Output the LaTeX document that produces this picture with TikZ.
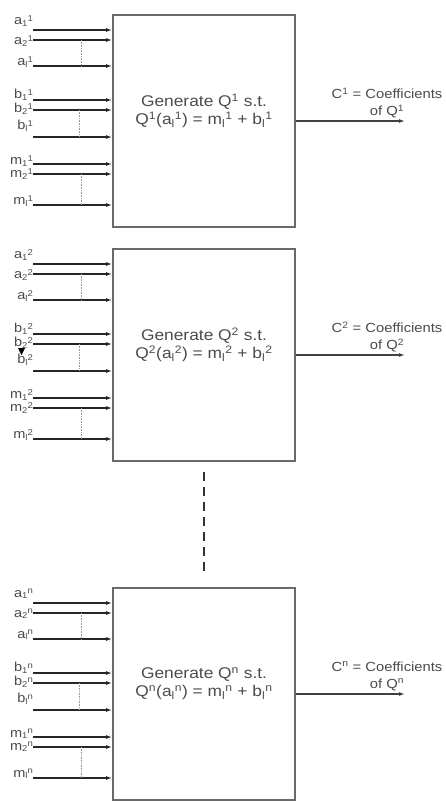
\documentclass[tikz,border=0pt]{standalone}
\usepackage{fontspec}
\setmainfont{Liberation Sans}
\newfontfamily\wideface[FakeStretch=1.12]{Liberation Sans}
\usetikzlibrary{arrows.meta,positioning}

\definecolor{boxgray}{RGB}{105,105,105}
\definecolor{txtgray}{RGB}{75,75,75}

% input name with index below and stage above, kept tight
\newcommand{\inname}[3]{#1\raisebox{-1.5pt}{\fontsize{8.5}{9}\selectfont#2}\raisebox{3.5pt}{\fontsize{8.5}{9}\selectfont#3}}

\tikzset{
  genbox/.style={draw=boxgray,line width=1.8pt,minimum width=182pt,minimum height=212pt,inner sep=0pt},
  boxtext/.style={align=center,text=txtgray,inner sep=0pt,font=\wideface\fontsize{15.5}{18}\selectfont},
  inlabel/.style={anchor=east,inner sep=0pt,text=txtgray,font=\wideface\fontsize{13}{13}\selectfont},
  inarrow/.style={draw=black!85,line width=1.2pt,-{Latex[length=6pt,width=4pt]}},
  outarrow/.style={draw=black!75,line width=1.2pt,-{Latex[length=6pt,width=4pt]}},
  outlabel/.style={align=center,text=txtgray,inner sep=0pt,font=\wideface\fontsize{13.2}{17}\selectfont},
  dotline/.style={draw=black!40,densely dotted,line width=0.6pt},
  dashline/.style={draw=black!80,line width=1.4pt,dash pattern=on 9pt off 6pt}
}

\begin{document}
\begin{tikzpicture}[x=1pt,y=-1pt]
\useasboundingbox (0,0) rectangle (445,801);

% one block per stage: top edge / superscript
\foreach \top/\s [count=\k] in {15/1,249/2,588/n}{
  % generator box
  \node[genbox] (gen\k) at (204,\top+106) {};
  \node[boxtext] (txt\k) at (204,\top+96)
    {Generate Q\textsuperscript{\s} s.t.\\Q\textsuperscript{\s}(a\textsubscript{l}\textsuperscript{\s}) = m\textsubscript{l}\textsuperscript{\s} + b\textsubscript{l}\textsuperscript{\s}};

  % inputs a, b, m  (name/index/arrow row/label lift)
  \foreach \v/\i/\dy/\lift [count=\j] in {a/1/15/9,a/2/25/-1,a/l/51/4,b/1/85/5,b/2/95/1,b/l/122/11,m/1/149/3,m/2/159/0,m/l/190/4}{
    \coordinate (in\k\j) at (33,\top+\dy);
    \node[inlabel] (lab\k\j) at ([yshift=\lift pt]in\k\j) {\inname{\v}{\i}{\s}};
    \draw[inarrow] (in\k\j) -- (in\k\j -| gen\k.west);
  }

  % dots between rows 2 and l
  \draw[dotline] (81,\top+25) -- (81,\top+51);
  \draw[dotline] (79,\top+95) -- (79,\top+122);
  \draw[dotline] (81,\top+159) -- (81,\top+190);

  % output
  \coordinate (out\k) at (405,\top+106);
  \draw[outarrow] (gen\k.east) -- (out\k);
  \node[outlabel] (coef\k) at (387,\top+88) {C\textsuperscript{\s} = Coefficients\\of Q\textsuperscript{\s}};
}

% stray tip next to b_2^2
\fill[black] (18,348) -- (25,348) -- (21.5,355) -- cycle;

% more stages in between
\draw[dashline] ([yshift=-10pt]gen2.south) -- ([yshift=11pt]gen3.north);
\end{tikzpicture}
\end{document}
